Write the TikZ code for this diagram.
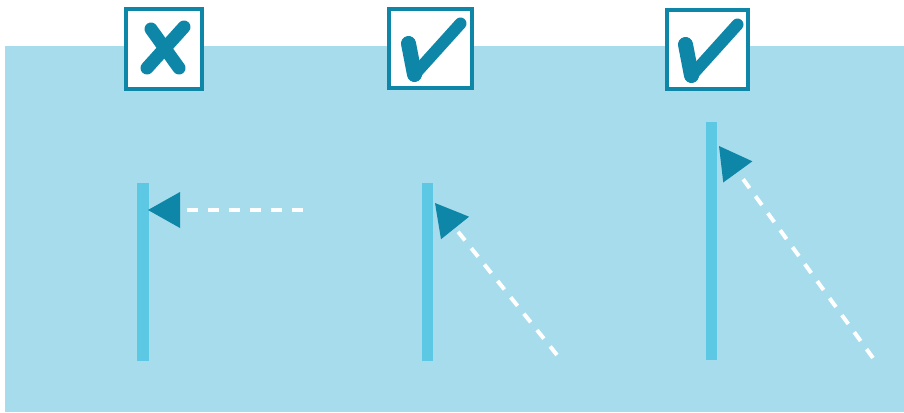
\documentclass[tikz,border=0pt]{standalone}
\usepackage{tikz}
\usepackage{xcolor}
\usetikzlibrary{%
  arrows.meta,
  positioning
}
\definecolor{sky}{RGB}{166,220,236}
\definecolor{pole}{RGB}{92,200,228}
\definecolor{deepteal}{RGB}{14,134,168}

\begin{document}
\begin{tikzpicture}[x=1pt,y=-1pt,
    signbox/.style={draw=deepteal,line width=4pt,fill=white,inner sep=0pt},
    signstroke/.style={deepteal,line width=12pt,line cap=round,line join=round},
    pointer/.style={white,line width=4pt,dash pattern=on 11pt off 10pt,
      -{Triangle[length=32pt,width=36pt,line width=0pt,color=deepteal]}}]
  \useasboundingbox (0,0) rectangle (904,412);
  \fill[sky] (5,46) rectangle (904,412);

  % the three signs on top
  \node[signbox,minimum width=76pt,minimum height=80pt] (no)  at (164,49)   {};
  \node[signbox,minimum width=83pt,minimum height=79pt] (ok1) at (430.5,48.5) {};
  \node[signbox,minimum width=81pt,minimum height=79pt] (ok2) at (707.5,49.5) {};

  \draw[signstroke,line width=13pt] (no.center) ++(-13,-20) -- ++(28,39);
  \draw[signstroke,line width=13pt] (no.center) ++(20,-22) -- ++(-37,41);
  \foreach \s in {ok1,ok2}{
    \draw[signstroke] (\s.center) ++(-16,26) -- ++(46,-51);
    \draw[signstroke,line width=15pt] (\s.center) ++(-22,-5) -- ++(6,31);
  }

  % poles
  \fill[pole] (137,183) rectangle (149,361);
  \fill[pole] (422,183) rectangle (433,361);
  \fill[pole] (706,122) rectangle (717,360);

  % arrows
  \coordinate (tipA) at (148,210);
  \coordinate (tailA) at (303,210);
  \coordinate (tipB) at (435,203);
  \coordinate (tailB) at (557,355);
  \coordinate (tipC) at (719,146);
  \coordinate (tailC) at (873,358);

  \draw[pointer] (tailA) -- (tipA);
  \draw[pointer] (tailB) -- (tipB);
  \draw[pointer] (tailC) -- (tipC);
\end{tikzpicture}
\end{document}
